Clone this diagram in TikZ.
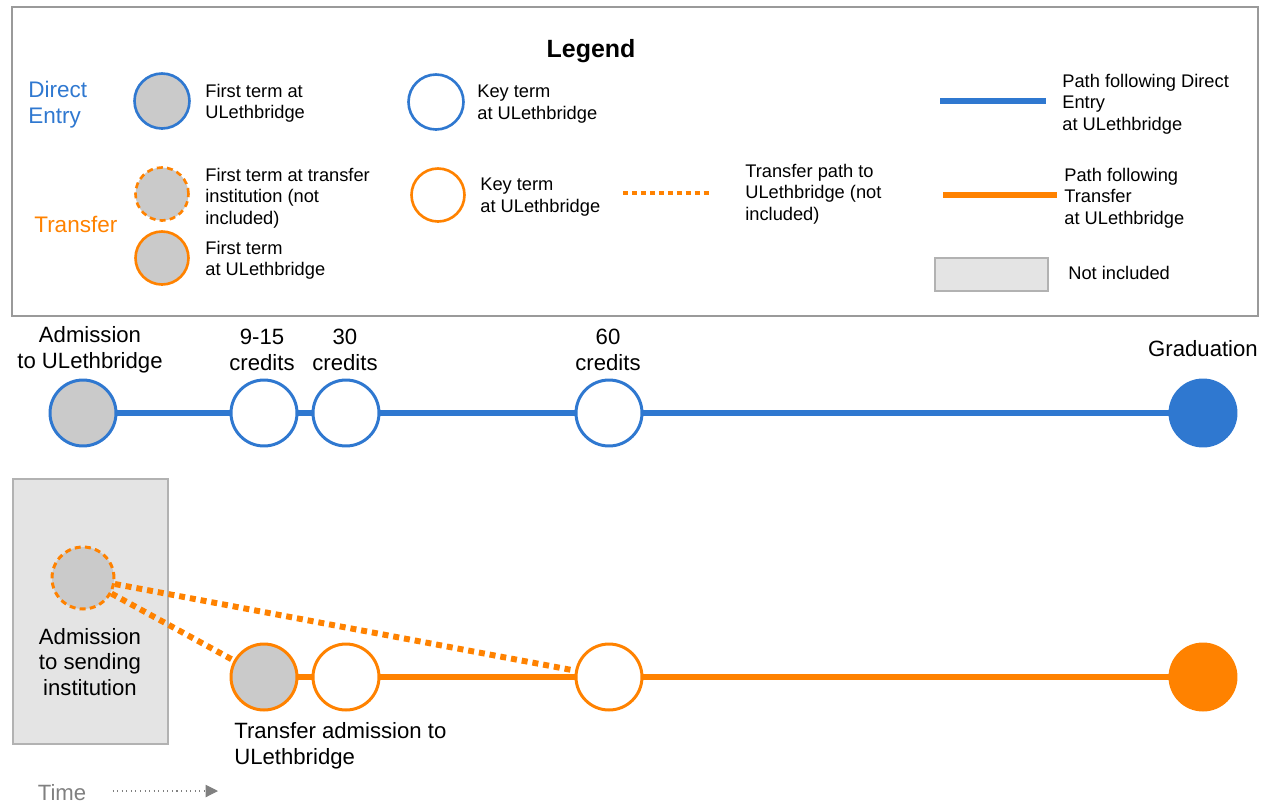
\documentclass[tikz,border=0pt]{standalone}
\usepackage{fontspec}
\setmainfont{Liberation Sans}
\usetikzlibrary{positioning,calc,arrows.meta}
\definecolor{ulblue}{HTML}{2F78D0}
\definecolor{ulorange}{HTML}{FF8200}
\definecolor{termgray}{HTML}{CACACA}
\definecolor{boxgray}{HTML}{E4E4E4}
\definecolor{framegray}{HTML}{9A9A9A}
\tikzset{
	term/.style={circle,line width=1.7pt,minimum size=1.32cm,inner sep=0pt},
	smallterm/.style={circle,line width=1.5pt,minimum size=1.1cm,inner sep=0pt},
	firstfill/.style={fill=termgray},
	keyfill/.style={fill=white},
	outside/.style={dash pattern=on 3.4pt off 2.4pt},
	bluepath/.style={ulblue,line width=3.6pt},
	orangepath/.style={ulorange,line width=3.6pt},
	transferpath/.style={ulorange,line width=3.4pt,dash pattern=on 3.4pt off 2.8pt},
	legtext/.style={anchor=west,inner sep=0pt,align=left,font=\fontsize{10.4}{12.2}\selectfont},
	maintext/.style={inner sep=0pt,align=center,font=\fontsize{12.6}{14.7}\selectfont},
	notincl/.style={fill=boxgray,draw=black!30,line width=1.1pt}
}
\begin{document}
\begin{tikzpicture}[x=0.02cm,y=-0.02cm]
		\useasboundingbox (0,0) rectangle (1262,806);
		% legend
		\draw[framegray,line width=1.2pt] (12,7) rectangle (1258,316);
		\node[maintext,font=\fontsize{14.2}{16}\selectfont\bfseries] (legend) at (591,51) {Legend};
		\node[legtext,font=\fontsize{12.8}{14.7}\selectfont,text=ulblue] (ldirect) at (28,105) {Direct\\Entry};
		\node[legtext,font=\fontsize{12.8}{14.7}\selectfont,text=ulorange] (ltransfer) at (34,224) {Transfer};
		\node[smallterm,firstfill,draw=ulblue] (lbfirst) at (162,101) {};
		\node[legtext] (lbfirsttxt) at (205,103) {First term at\\ULethbridge};
		\node[smallterm,keyfill,draw=ulblue] (lbkey) at (436,102) {};
		\node[legtext] (lbkeytxt) at (477,104) {Key term\\at ULethbridge};
		\draw[bluepath] (940,101) -- (1046,101);
		\node[legtext] (lbpathtxt) at (1062,104) {Path following Direct\\Entry\\at ULethbridge};
		\node[smallterm,firstfill,draw=ulorange,outside,minimum size=1.06cm] (losend) at (162,194) {};
		\node[legtext] (losendtxt) at (205,198) {First term at transfer\\institution (not\\included)};
		\node[smallterm,firstfill,draw=ulorange,minimum size=1.06cm] (lofirst) at (162,258) {};
		\node[legtext] (lofirsttxt) at (205,260) {First term\\at ULethbridge};
		\node[smallterm,keyfill,draw=ulorange,minimum size=1.06cm] (lokey) at (438,195) {};
		\node[legtext] (lokeytxt) at (480,197) {Key term\\at ULethbridge};
		\draw[transferpath,line width=2.8pt,dash pattern=on 2.8pt off 2.3pt] (623,193) -- (709,193);
		\node[legtext] (lotranstxt) at (745,194) {Transfer path to\\ULethbridge (not\\included)};
		\draw[orangepath] (943,195) -- (1057,195);
		\node[legtext] (lopathtxt) at (1064,198) {Path following\\Transfer\\at ULethbridge};
		\draw[notincl] (935,258) rectangle (1048,291);
		\node[legtext] (lnottxt) at (1068,273) {Not included};
		% direct entry
		\node[term,firstfill,draw=ulblue] (badm) at (83,413) {};
		\node[term,keyfill,draw=ulblue] (bnine) at (264,413) {};
		\node[term,keyfill,draw=ulblue] (bthirty) at (346,413) {};
		\node[term,keyfill,draw=ulblue] (bsixty) at (609,413) {};
		\node[term,fill=ulblue,draw=ulblue] (bgrad) at (1203,413) {};
		\draw[bluepath] (badm) -- (bnine) -- (bthirty) -- (bsixty) -- (bgrad);
		\node[maintext] (badmtxt) at (90,350) {Admission\\to ULethbridge};
		\node[maintext] (bninetxt) at (262,350) {9-15\\credits};
		\node[maintext] (bthirtytxt) at (345,350) {30\\credits};
		\node[maintext] (bsixtytxt) at (608,350) {60\\credits};
		\node[maintext] (bgradtxt) at (1203,349) {Graduation};
		% transfer
		\draw[notincl] (13,479) rectangle (168,744);
		\node[term,firstfill,draw=ulorange,outside,minimum size=1.24cm] (osend) at (83,578) {};
		\node[maintext] (osendtxt) at (90,662) {Admission\\to sending\\institution};
		\node[term,firstfill,draw=ulorange] (ofirst) at (264,677) {};
		\node[term,keyfill,draw=ulorange] (othirty) at (346,677) {};
		\node[term,keyfill,draw=ulorange] (osixty) at (609,677) {};
		\node[term,fill=ulorange,draw=ulorange] (ograd) at (1203,677) {};
		\draw[orangepath] (ofirst) -- (othirty) -- (osixty) -- (ograd);
		\draw[transferpath] (osend) -- (ofirst);
		\draw[transferpath] (osend) -- (osixty);
		\node[maintext,anchor=west,align=left] (ofirsttxt) at (234,746) {Transfer admission to\\ULethbridge};
		% time
		\node[maintext,text=black!50] (time) at (62,793) {Time};
		\coordinate (timeend) at (218,791);
		\draw[black!50,line width=0.6pt,dotted,-{Triangle[length=7pt,width=7pt]}] ($(time.east)+(26,-2)$) -- (timeend);
	\end{tikzpicture}
\end{document}
